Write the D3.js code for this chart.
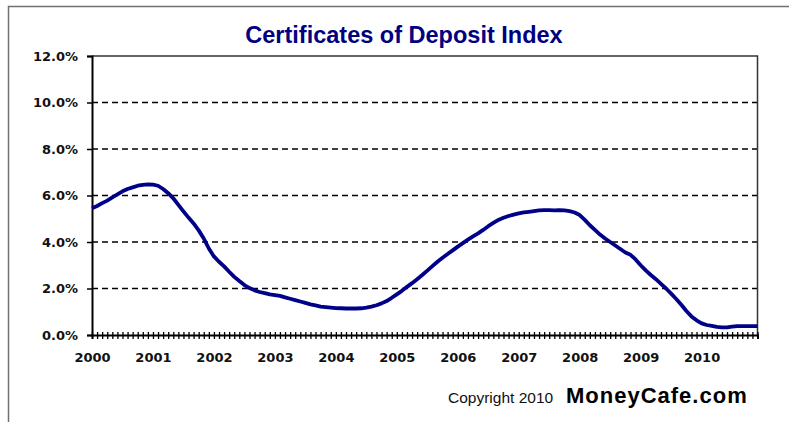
<!DOCTYPE html>
<html>
<head>
<meta charset="utf-8">
<title>Certificates of Deposit Index</title>
<script src="https://cdn.jsdelivr.net/npm/d3@7"></script>
<style>
  body { margin: 0; background: #fff; }
</style>
</head>
<body>
<div id="chart"></div>
<script>
// monthly CD index, Jan 2000 .. Dec 2010 (percent)
const y2000 = [5.45, 5.55, 5.67, 5.78, 5.92, 6.05, 6.18, 6.28, 6.35, 6.42, 6.46, 6.48]
const y2001 = [6.47, 6.42, 6.28, 6.10, 5.88, 5.60, 5.32, 5.05, 4.80, 4.50, 4.15, 3.72]
const y2002 = [3.38, 3.15, 2.95, 2.72, 2.50, 2.32, 2.15, 2.02, 1.92, 1.85, 1.80, 1.75]
const y2003 = [1.72, 1.68, 1.62, 1.56, 1.50, 1.44, 1.38, 1.32, 1.27, 1.22, 1.20, 1.18]
const y2004 = [1.16, 1.15, 1.14, 1.14, 1.14, 1.15, 1.18, 1.22, 1.28, 1.36, 1.46, 1.60]
const y2005 = [1.75, 1.90, 2.07, 2.23, 2.40, 2.58, 2.77, 2.96, 3.15, 3.32, 3.48, 3.64]
const y2006 = [3.80, 3.95, 4.10, 4.24, 4.37, 4.52, 4.68, 4.82, 4.95, 5.04, 5.12, 5.18]
const y2007 = [5.23, 5.27, 5.30, 5.33, 5.36, 5.37, 5.37, 5.36, 5.37, 5.36, 5.33, 5.27]
const y2008 = [5.16, 4.95, 4.72, 4.52, 4.32, 4.15, 4.00, 3.85, 3.70, 3.55, 3.45, 3.25]
const y2009 = [3.00, 2.78, 2.58, 2.40, 2.20, 2.00, 1.78, 1.55, 1.30, 1.03, 0.80, 0.63]
const y2010 = [0.50, 0.43, 0.39, 0.35, 0.33, 0.33, 0.36, 0.38, 0.38, 0.38, 0.38, 0.38]

const years = [2000, 2001, 2002, 2003, 2004, 2005, 2006, 2007, 2008, 2009, 2010]
const yTicks = [0, 2, 4, 6, 8, 10, 12]

const values = [].concat(y2000, y2001, y2002, y2003, y2004, y2005, y2006, y2007, y2008, y2009, y2010)
let dataset = []
for (let i = 0; i < values.length; i++) {
    dataset.push([i, values[i]])
}

const w = 789
const h = 422
const plotLeft = 92
const plotRight = 757.5
const plotTop = 56
const plotBottom = 335
const axisFont = '"DejaVu Sans", Verdana, sans-serif'
const textFont = '"Liberation Sans", Arial, sans-serif'

const svg = d3.select('#chart')
    .append('svg')
    .attr('width', w)
    .attr('height', h)

// outer frame (top and left edges only)
svg.append('path')
    .attr('d', 'M8.5,' + h + 'V6.5H' + w)
    .attr('fill', 'none')
    .attr('stroke', '#707070')
    .attr('stroke-width', 1.5)

const xScale = d3.scaleLinear()
    .domain([0, 131])
    .range([plotLeft, plotRight])

const yScale = d3.scaleLinear()
    .domain([0, 12])
    .range([plotBottom, plotTop])

// dashed gridlines
svg.append('g')
    .selectAll('line')
    .data(yTicks.filter(d => d > 0 && d < 12))
    .enter()
    .append('line')
    .attr('x1', plotLeft)
    .attr('x2', plotRight)
    .attr('y1', d => yScale(d))
    .attr('y2', d => yScale(d))
    .attr('stroke', '#000')
    .attr('stroke-width', 1.5)
    .attr('stroke-dasharray', '6,4')

// plot border top + right
svg.append('path')
    .attr('d', 'M' + plotLeft + ',' + plotTop + 'H' + plotRight + 'V' + plotBottom)
    .attr('fill', 'none')
    .attr('stroke', '#333')
    .attr('stroke-width', 1.5)

const yAxis = d3.axisLeft(yScale)
    .tickValues(yTicks)
    .tickSize(5)
    .tickPadding(9)
    .tickFormat(d => d.toFixed(1) + '%')

const gy = svg.append('g')
    .attr('transform', 'translate(' + plotLeft + ',0)')
    .call(yAxis)
gy.select('.domain').attr('stroke', '#000').attr('stroke-width', 2)
gy.selectAll('.tick line').attr('stroke-width', 1.5)
gy.selectAll('text')
    .style('font-family', axisFont)
    .style('font-size', '13px')
    .style('font-weight', 'bold')
    .attr('fill', '#111')

const months = d3.range(0, 132)
const xAxis = d3.axisBottom(xScale)
    .tickValues(months)
    .tickSize(4)
    .tickFormat(d => d % 12 === 0 ? years[d / 12] : '')
    .tickPadding(14)

const gx = svg.append('g')
    .attr('transform', 'translate(0,' + plotBottom + ')')
    .call(xAxis)
gx.select('.domain').attr('stroke', '#000').attr('stroke-width', 2)
gx.selectAll('.tick line').attr('y1', -3).attr('stroke-width', 1.3)
gx.selectAll('text')
    .style('font-family', axisFont)
    .style('font-size', '13px')
    .style('font-weight', 'bold')
    .attr('fill', '#111')

const line = d3.line()
    .x(d => xScale(d[0]))
    .y(d => yScale(d[1]))

svg.append('path')
    .datum(dataset)
    .attr('d', line)
    .attr('fill', 'none')
    .attr('stroke', '#000088')
    .attr('stroke-width', 3.8)
    .attr('stroke-linejoin', 'round')

// title
svg.append('text')
    .attr('x', 404)
    .attr('y', 43)
    .attr('text-anchor', 'middle')
    .style('font-family', textFont)
    .style('font-size', '23.5px')
    .style('font-weight', 'bold')
    .attr('fill', '#000080')
    .text('Certificates of Deposit Index')

// copyright
svg.append('text')
    .attr('x', 448)
    .attr('y', 403)
    .style('font-family', textFont)
    .style('font-size', '15.5px')
    .attr('fill', '#111')
    .text('Copyright 2010')

svg.append('text')
    .attr('x', 566)
    .attr('y', 403)
    .style('font-family', textFont)
    .style('font-size', '22px')
    .style('font-weight', 'bold')
    .style('letter-spacing', '1px')
    .attr('fill', '#000')
    .text('MoneyCafe.com')
</script>
</body>
</html>
